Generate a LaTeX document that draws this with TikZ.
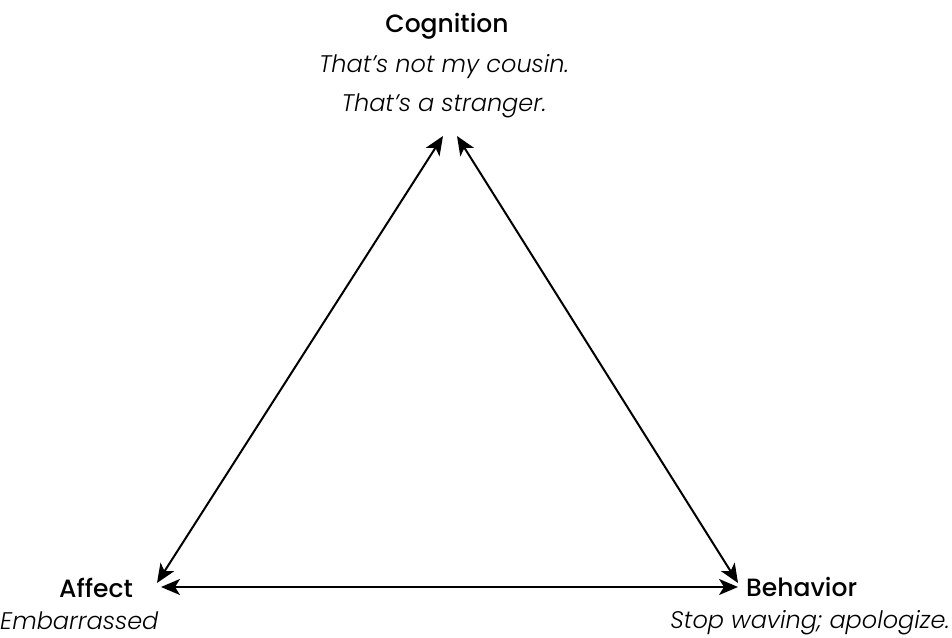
\documentclass[tikz,border=0pt]{standalone}
\usepackage{fontspec}
\setmainfont{Poppins}[ItalicFont={Poppins Light Italic}]
\newfontfamily\headfont{Poppins Medium}
\usepackage{tikz}
\usetikzlibrary{arrows.meta}

\begin{document}
\begin{tikzpicture}[x=1pt,y=1pt,
  title/.style={font=\headfont\fontsize{25}{30}\selectfont, inner sep=0pt},
  quote/.style={font=\fontsize{24}{30}\selectfont\itshape, inner sep=0pt},
  link/.style={line width=2pt, {Stealth[length=19pt,width=16pt,inset=5pt]}-{Stealth[length=19pt,width=16pt,inset=5pt]}}]
\useasboundingbox (0,0) rectangle (952,637);
% Corner labels
\node[title, anchor=base] (cog) at (447,604) {Cognition};
\node[quote, anchor=base] (cogA) at (444,564) {That’s not my cousin.};
\node[quote, anchor=base] (cogB) at (444,525) {That’s a stranger.};
\node[title, anchor=base] (aff) at (96,40) {Affect};
\node[quote, anchor=base west] (affA) at (0,8) {Embarrassed};
\node[title, anchor=base west] (beh) at (746,41) {Behavior};
\node[quote, anchor=base east] (behA) at (950,9) {Stop waving; apologize.};
% Arrow ends
\coordinate (topL) at (443,501);
\coordinate (topR) at (457,501);
\coordinate (affT) at (157,54);
\coordinate (affR) at (161,50);
\coordinate (behT) at (738,54);
\coordinate (behL) at (738,50);
% Edges
\draw[link] (topL) -- (affT);
\draw[link] (topR) -- (behT);
\draw[link] (affR) -- (behL);
\end{tikzpicture}
\end{document}
